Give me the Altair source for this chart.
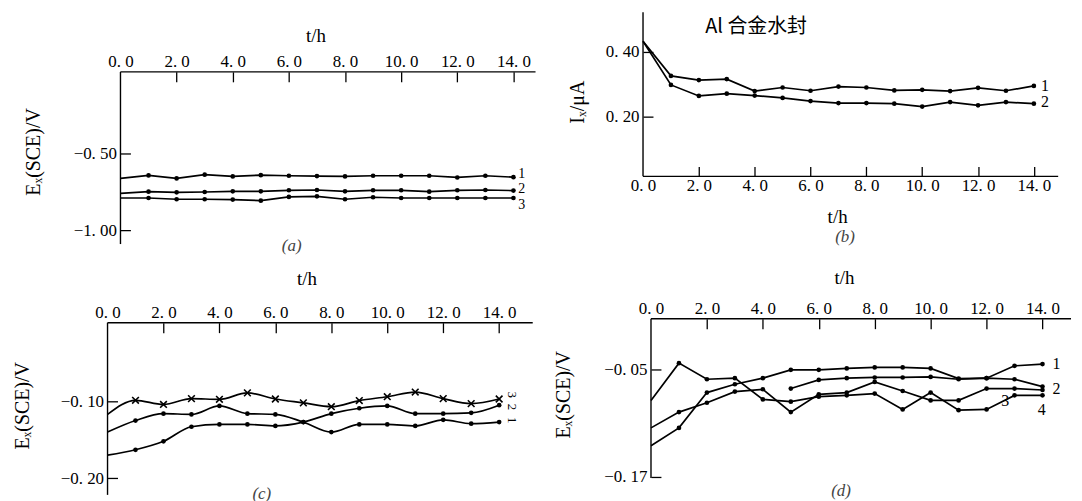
import altair as alt
import pandas as pd

SERIF = "Liberation Serif"
CJK = "Noto Sans CJK SC"

HOURS = list(range(15))

# ---------- panel (a): E_x(SCE)/V ----------
A1 = [-0.663, -0.644, -0.663, -0.639, -0.650, -0.642, -0.646, -0.648, -0.650, -0.646, -0.646, -0.646, -0.657, -0.646, -0.655]
A2 = [-0.760, -0.749, -0.753, -0.751, -0.747, -0.747, -0.740, -0.738, -0.747, -0.740, -0.740, -0.749, -0.740, -0.738, -0.742]
A3 = [-0.790, -0.790, -0.798, -0.798, -0.800, -0.807, -0.783, -0.779, -0.798, -0.785, -0.790, -0.790, -0.790, -0.790, -0.790]
A_LABELS = ["1", "2", "3"]
A_LABEL_T = [14.3, 14.3, 14.3]
A_LABEL_V = [-0.634, -0.730, -0.836]

# ---------- panel (b): I_x/uA ----------
B1 = [0.433, 0.326, 0.313, 0.316, 0.279, 0.290, 0.280, 0.293, 0.290, 0.281, 0.283, 0.279, 0.289, 0.280, 0.295]
B2 = [0.433, 0.298, 0.264, 0.271, 0.265, 0.258, 0.248, 0.242, 0.242, 0.240, 0.231, 0.245, 0.235, 0.245, 0.240]
B_LABELS = ["1", "2"]
B_LABEL_T = [14.4, 14.4]
B_LABEL_V = [0.294, 0.244]
B_TITLE = "Al 合金水封"

# ---------- panel (c) ----------
C1 = [-0.140, -0.125, -0.116, -0.117, -0.106, -0.116, -0.117, -0.127, -0.140, -0.130, -0.130, -0.132, -0.124, -0.129, -0.127]
C2 = [-0.170, -0.163, -0.152, -0.133, -0.130, -0.130, -0.132, -0.127, -0.116, -0.109, -0.106, -0.116, -0.116, -0.115, -0.105]
C3 = [-0.117, -0.0987, -0.104, -0.0965, -0.0974, -0.089, -0.097, -0.102, -0.107, -0.099, -0.094, -0.088, -0.0965, -0.103, -0.097]
C_LABELS = ["3", "2", "1"]
C_LABEL_T = [14.45, 14.45, 14.45]
C_LABEL_V = [-0.0915, -0.1075, -0.1245]

# ---------- panel (d) ----------
D1 = [-0.1355, -0.1156, -0.0762, -0.0669, -0.0601, -0.0508, -0.0508, -0.0492, -0.0481, -0.0481, -0.0492, -0.0605, -0.0601, -0.0463, -0.0444]
D2_T = [5, 6, 7, 8, 9, 10, 11, 12, 13, 14]
D2 = [-0.0717, -0.0620, -0.0601, -0.0593, -0.0593, -0.0587, -0.0613, -0.0601, -0.0613, -0.0695]
D3 = [-0.0849, -0.0433, -0.0613, -0.0601, -0.0838, -0.0863, -0.0807, -0.0793, -0.0773, -0.0950, -0.0762, -0.0958, -0.0950, -0.0793, -0.0793]
D4 = [-0.1156, -0.0980, -0.0875, -0.0751, -0.0725, -0.0980, -0.0781, -0.0762, -0.0643, -0.0744, -0.0849, -0.0849, -0.0717, -0.0717, -0.0733]
D_LABELS = ["1", "2", "3", "4"]
D_LABEL_T = [14.5, 14.5, 12.67, 13.97]
D_LABEL_V = [-0.0445, -0.0725, -0.0857, -0.0960]

X_LABEL_VALUES = [0, 2, 4, 6, 8, 10, 12, 14]
X_TICK_VALUES = [2, 4, 6, 8, 10, 12, 14]


def frame(names, times, values):
    rows = []
    for n, ts, vs in zip(names, times, values):
        for t, v in zip(ts, vs):
            rows.append({"s": n, "t": t, "v": v})
    return pd.DataFrame(rows)


def label_frame(texts, ts, vs):
    return pd.DataFrame({"txt": texts, "t": ts, "v": vs})


def fmt(dec):
    return "replace(format(datum.value, '.%df'), '.', '. ')" % dec


def panel(df, xdom, ydom, x_end, x_axis_v, y_lo, y_hi, yvals, xorient, xoff, yoff,
          xtitle_xy, ytitle, ytitle_xy, w, h, interp, labels, caption, cap_dx, cap_offset,
          dot_df, cross_df=None, lab_angle=0, lab_size=15, extra=None):
    xs = alt.Scale(domain=xdom, nice=False, zero=False)
    ys = alt.Scale(domain=ydom, nice=False, zero=False)
    x_main = alt.Axis(orient=xorient, values=X_LABEL_VALUES, labelExpr=fmt(1),
                      ticks=False, domain=False, grid=False, offset=xoff,
                      labelFont=SERIF, labelFontSize=17, labelColor="black",
                      labelPadding=1, labelFlush=False, labelOverlap=False,
                      title="t/h", titleFont=SERIF, titleFontSize=19, titleFontWeight="normal",
                      titleColor="black", titleX=xtitle_xy[0], titleY=xtitle_xy[1],
                      titleAngle=0, titleAlign="center", titleBaseline="middle")
    y_main = alt.Axis(orient="left", values=yvals, labelExpr=fmt(2),
                      ticks=False, domain=False, grid=False, offset=yoff,
                      labelFont=SERIF, labelFontSize=17, labelColor="black",
                      labelPadding=4, labelFlush=False, labelOverlap=False,
                      title=ytitle, titleFont=SERIF, titleFontSize=20, titleFontWeight="normal",
                      titleColor="black", titleX=ytitle_xy[0], titleY=ytitle_xy[1],
                      titleAngle=270, titleAlign="center", titleBaseline="middle")
    x_tick = alt.Axis(orient=xorient, values=X_TICK_VALUES, ticks=True, tickSize=10,
                      tickWidth=1.3, tickColor="black", domain=False, labels=False,
                      grid=False, offset=xoff - 10, title=None)
    y_tick = alt.Axis(orient="left", values=yvals, ticks=True, tickSize=10,
                      tickWidth=1.3, tickColor="black", domain=False, labels=False,
                      grid=False, offset=yoff - 10, title=None)

    lines = alt.Chart(df).mark_line(color="black", strokeWidth=1.7, interpolate=interp).encode(
        x=alt.X("t:Q", scale=xs, axis=x_main),
        y=alt.Y("v:Q", scale=ys, axis=y_main),
        detail="s:N",
    )
    dots = alt.Chart(dot_df).mark_circle(size=22, color="black", opacity=1).encode(
        x=alt.X("t:Q", scale=xs, axis=x_tick),
        y=alt.Y("v:Q", scale=ys, axis=y_tick),
    )
    x_line = alt.Chart(pd.DataFrame({"t": [0], "t2": [x_end], "v": [x_axis_v]})).mark_rule(
        color="black", strokeWidth=1.4).encode(
        x=alt.X("t:Q", scale=xs, axis=None), x2="t2:Q",
        y=alt.Y("v:Q", scale=ys, axis=None))
    y_line = alt.Chart(pd.DataFrame({"t": [0], "v": [y_lo], "v2": [y_hi]})).mark_rule(
        color="black", strokeWidth=1.4).encode(
        x=alt.X("t:Q", scale=xs, axis=None),
        y=alt.Y("v:Q", scale=ys, axis=None), y2="v2:Q")
    layers = [lines, dots, x_line, y_line]
    if cross_df is not None:
        layers.append(alt.Chart(cross_df).mark_point(
            shape="M-1,-1L1,1M-1,1L1,-1", size=45, filled=False,
            stroke="black", strokeWidth=1.6, opacity=1).encode(
            x=alt.X("t:Q", scale=xs, axis=None),
            y=alt.Y("v:Q", scale=ys, axis=None)))
    layers.append(alt.Chart(labels).mark_text(
        font=SERIF, fontSize=lab_size, color="black", align="center", baseline="middle",
        angle=lab_angle).encode(
        x=alt.X("t:Q", scale=xs, axis=None),
        y=alt.Y("v:Q", scale=ys, axis=None),
        text="txt:N"))
    if extra is not None:
        layers.append(extra(xs, ys))
    return alt.layer(*layers).resolve_axis(x="independent", y="independent").properties(
        width=w, height=h,
        title=alt.TitleParams(caption, orient="bottom", anchor="middle", dx=cap_dx,
                              offset=cap_offset, font=SERIF, fontSize=17,
                              fontStyle="italic", fontWeight="normal", color="#444"))


dfa = frame(["1", "2", "3"], [HOURS] * 3, [A1, A2, A3])
dfb = frame(["1", "2"], [HOURS] * 2, [B1, B2])
dfc = frame(["1", "2", "3"], [HOURS] * 3, [C1, C2, C3])
dfd = frame(["1", "2", "3", "4"], [HOURS, D2_T, HOURS, HOURS], [D1, D2, D3, D4])

pa = panel(dfa, [-0.461, 14.787], [-1.088, 0.413], 14.787, 0.0264, -1.088, 0.0264,
           [-1.0, -0.5], "top", -60, -13, (209, -37),
           "Eₓ(SCE)/V", (-87, 140), 430, 233, "linear",
           label_frame(A_LABELS, A_LABEL_T, A_LABEL_V), "(a)", -30, -7,
           dfa[dfa.t > 0], lab_size=14)


def b_title(xs, ys):
    return alt.Chart(pd.DataFrame({"txt": [B_TITLE], "t": [4.05], "v": [0.477]})).mark_text(
        font=CJK, fontSize=20, color="black", align="center", baseline="middle").encode(
        x=alt.X("t:Q", scale=xs, axis=None),
        y=alt.Y("v:Q", scale=ys, axis=None),
        text="txt:N")


pb = panel(dfb, [0, 15.33], [0.0154, 0.523], 14.87, 0.0154, 0.0154, 0.523,
           [0.2, 0.4], "bottom", 0, 0, (195, 40),
           "Iₓ/μA", (-66, 90), 430, 165, "linear",
           label_frame(B_LABELS, B_LABEL_T, B_LABEL_V), "(b)", -12, 3,
           dfb[dfb.t > 0], lab_size=16, extra=b_title)

pc = panel(dfc, [0, 15.3], [-0.2216, 0.0074], 15.2, 0.0022, -0.2216, 0.0022,
           [-0.2, -0.1], "top", -4, 0, (200, -44),
           "Eₓ(SCE)/V", (-85, 87), 430, 177, "monotone",
           label_frame(C_LABELS, C_LABEL_T, C_LABEL_V), "(c)", -60, -10,
           dfc[(dfc.t > 0) & (dfc.s != "3")], cross_df=dfc[(dfc.t > 0) & (dfc.s == "3")],
           lab_angle=90, lab_size=13)

pd_ = panel(dfd, [-0.285, 15.02], [-0.1715, 0.0063], 15.02, 0.0063, -0.1715, 0.0063,
            [-0.17, -0.05], "top", 0, -8, (202, -41),
            "Eₓ(SCE)/V", (-88, 76), 430, 160, "linear",
            label_frame(D_LABELS, D_LABEL_T, D_LABEL_V), "(d)", -16, -2,
            dfd[dfd.t > 0], lab_size=16)

chart = alt.concat(pa, pb, pc, pd_, columns=2, spacing={"row": 75, "column": 108},
                   bounds="flush", align="each").properties(
    padding={"left": 5, "top": 2, "right": 2, "bottom": 0},
    background="white",
).configure_view(stroke=None)

chart.save("out.html", embed_options={"renderer": "svg", "actions": False})
